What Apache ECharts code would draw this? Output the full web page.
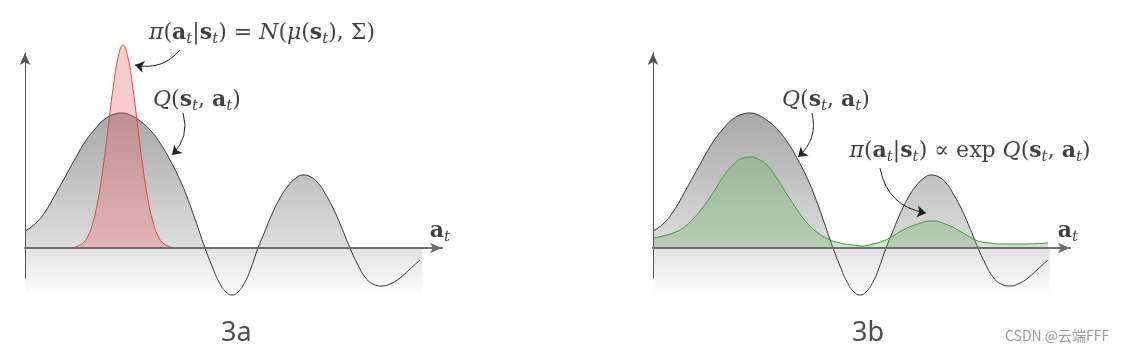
<!DOCTYPE html>
<html><head><meta charset="utf-8">
<script src="https://cdn.jsdelivr.net/npm/echarts@6/dist/echarts.min.js"></script>
<style>html,body{margin:0;padding:0;background:#fff}#c{width:1126px;height:353px}</style>
</head><body><div id="c"></div>
<script>
// Q(s_t, a_t) curve (same in both panels)
const qX = [0,10,20,30,40,50,60,70,80,90,97,105,115,125,135,145,155,162,170,180,187,194,201,207,213,220,226,233,240,247,255,263,271,278,285,293,301,308,316,325,332,340,348,357,366,375,385,395];
const qY = [0.17,0.24,0.36,0.53,0.71,0.89,1.06,1.19,1.29,1.34,1.35,1.33,1.27,1.18,1.05,0.88,0.68,0.51,0.29,0.00,-0.18,-0.34,-0.44,-0.47,-0.44,-0.34,-0.20,0.00,0.17,0.34,0.50,0.62,0.70,0.73,0.715,0.65,0.53,0.40,0.22,0.00,-0.15,-0.29,-0.36,-0.38,-0.355,-0.30,-0.21,-0.12];
// Gaussian policy (panel 3a)
const piX = [48,53,58,63,68,73,78,83,88,93,98,103,108,113,118,123,128,133,138,143,148];
const piY = [0.00,0.02,0.05,0.12,0.26,0.48,0.80,1.19,1.59,1.90,2.03,1.90,1.59,1.19,0.80,0.48,0.26,0.12,0.05,0.02,0.00];
// Energy-based policy (panel 3b)
const expX = [0,10,20,30,40,50,60,70,80,90,97,105,115,125,135,145,155,165,175,187,200,210,220,230,240,250,262,279,295,305,315,325,337,350,367,395];
const expY = [0.10,0.12,0.15,0.20,0.29,0.41,0.55,0.71,0.83,0.90,0.91,0.89,0.82,0.68,0.52,0.37,0.24,0.15,0.09,0.05,0.03,0.02,0.04,0.07,0.12,0.18,0.23,0.27,0.23,0.18,0.12,0.07,0.05,0.04,0.04,0.05];
// shaded band below the action axis
const bandX = [0, 397];
const bandY = [-0.49, -0.49];
// annotation anchors (data units)
const labelsA = [
  {at: [237, 2.15], text: '{i|π}{r|(}{b|a}{s|t}{r||}{b|s}{s|t}{r|) = }{i|N}{r|(}{i|μ}{r|(}{b|s}{s|t}{r|), Σ)}'},
  {at: [172, 1.48], text: '{i|Q}{r|(}{b|s}{s|t}{r|, }{b|a}{s|t}{r|)}'},
  {at: [415, 0.17], text: '{b|a}{s|t}'}
];
const labelsB = [
  {at: [173, 1.48], text: '{i|Q}{r|(}{b|s}{s|t}{r|, }{b|a}{s|t}{r|)}'},
  {at: [317, 0.97], text: '{i|π}{r|(}{b|a}{s|t}{r||}{b|s}{s|t}{r|) ∝ exp }{i|Q}{r|(}{b|s}{s|t}{r|, }{b|a}{s|t}{r|)}'},
  {at: [415, 0.17], text: '{b|a}{s|t}'}
];
const arrowsA = [{from: [155, 1.98], to: [110, 1.83], bend: 0.3}, {from: [158, 1.35], to: [147, 0.93], bend: 0.3}];
const arrowsB = [{from: [159, 1.35], to: [145, 0.91], bend: 0.3}, {from: [227, 0.80], to: [273, 0.35], bend: -0.35}];

const zip = (xs, ys) => xs.map((x, i) => [x, ys[i]]);
const F = 'DejaVu Serif';
const rich = {
  r: {fontFamily: F, fontSize: 22, color: '#111', lineHeight: 28},
  i: {fontFamily: F, fontSize: 22, fontStyle: 'italic', color: '#111', lineHeight: 28},
  b: {fontFamily: F, fontSize: 22, fontWeight: 'bold', color: '#111', lineHeight: 28},
  s: {fontFamily: F, fontSize: 15, fontStyle: 'italic', color: '#111', lineHeight: 15, verticalAlign: 'bottom'}
};
const qMax = Math.max(...qY), qMin = Math.min(...qY);
const off = qMax / (qMax - qMin);
const grayGrad = {type: 'linear', x: 0, y: 0, x2: 0, y2: 1, colorStops: [
  {offset: 0, color: '#a8a8a8'}, {offset: off, color: '#dddddd'}, {offset: 1, color: '#dddddd'}]};
const bandGrad = {type: 'linear', x: 0, y: 0, x2: 0, y2: 1, colorStops: [
  {offset: 0, color: '#e2e2e2'}, {offset: 1, color: '#ffffff'}]};

function panelSeries(k, policyX, policyY, lineColor, fillColor, labels, arrows) {
  const ax = {xAxisIndex: k, yAxisIndex: k};
  const s = [];
  s.push(Object.assign({type: 'line', data: zip(qX, qY), smooth: true, symbol: 'none', clip: false, z: 1,
    lineStyle: {width: 0}, areaStyle: {color: grayGrad, opacity: 1}, silent: true}, ax));
  s.push(Object.assign({type: 'line', data: zip(bandX, bandY), symbol: 'none', clip: false, z: 2,
    lineStyle: {width: 0}, areaStyle: {color: bandGrad, opacity: 1, origin: 0}, silent: true}, ax));
  s.push(Object.assign({type: 'line', data: zip(qX, qY), smooth: true, symbol: 'none', clip: false, z: 3,
    lineStyle: {width: 1, color: '#333'}, silent: true}, ax));
  s.push(Object.assign({type: 'line', data: zip(policyX, policyY), smooth: true, symbol: 'none', clip: false, z: 4,
    lineStyle: {width: 1, color: lineColor}, areaStyle: {color: fillColor, opacity: 1}, silent: true}, ax));
  s.push(Object.assign({type: 'lines', coordinateSystem: 'cartesian2d', clip: false, z: 6, silent: true,
    symbol: ['none', 'arrow'], symbolSize: 9,
    lineStyle: {color: '#222', width: 1, opacity: 1},
    data: arrows.map(a => ({coords: [a.from, a.to], lineStyle: {curveness: a.bend}}))}, ax));
  labels.forEach(l => {
    s.push(Object.assign({type: 'scatter', data: [l.at], symbolSize: 0, clip: false, z: 7, silent: true,
      label: {show: true, position: 'inside', formatter: l.text, rich: rich}}, ax));
  });
  return s;
}

const xAxisBase = {type: 'value', min: 0, max: 417, z: 10,
  axisLine: {show: true, onZero: true, symbol: ['none', 'arrow'], symbolSize: [8, 12], lineStyle: {color: '#6e6e6e', width: 2}},
  axisTick: {show: false}, axisLabel: {show: false}, splitLine: {show: false}};
const yAxisBase = {type: 'value', min: -0.30, max: 1.95, z: 10,
  axisLine: {show: true, symbol: ['none', 'arrow'], symbolSize: [8, 12], lineStyle: {color: '#555', width: 1}},
  axisTick: {show: false}, axisLabel: {show: false}, splitLine: {show: false}};

const chart = echarts.init(document.getElementById('c'), null, {renderer: 'canvas'});
chart.setOption({
  animation: false,
  backgroundColor: '#fff',
  grid: [
    {left: 25, top: 53, width: 417, height: 225},
    {left: 653, top: 53, width: 417, height: 225}
  ],
  xAxis: [Object.assign({gridIndex: 0}, xAxisBase), Object.assign({gridIndex: 1}, xAxisBase)],
  yAxis: [Object.assign({gridIndex: 0}, yAxisBase), Object.assign({gridIndex: 1}, yAxisBase)],
  title: [
    {text: '3a', left: 221, top: 320, padding: 0, textStyle: {fontFamily: 'Noto Sans', fontSize: 27, fontWeight: 'normal', color: '#4d4d4d'}},
    {text: '3b', left: 852, top: 320, padding: 0, textStyle: {fontFamily: 'Noto Sans', fontSize: 27, fontWeight: 'normal', color: '#4d4d4d'}},
    {text: 'CSDN @云端FFF', left: 1005, top: 329, padding: 0, textStyle: {fontFamily: 'Noto Sans CJK SC', fontSize: 14, fontWeight: 'normal', color: '#999'}}
  ],
  series: [].concat(
    panelSeries(0, piX, piY, '#d94a4a', 'rgba(235,100,100,0.33)', labelsA, arrowsA),
    panelSeries(1, expX, expY, '#3c9a3c', 'rgba(95,170,85,0.30)', labelsB, arrowsB)
  )
});
</script></body></html>
